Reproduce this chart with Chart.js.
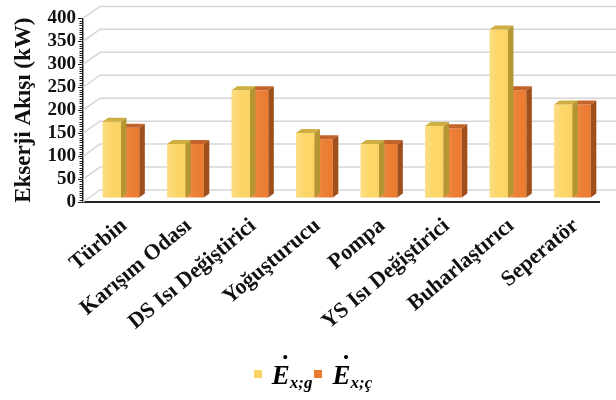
<!DOCTYPE html>
<html>
<head>
<meta charset="utf-8">
<script src="https://cdn.jsdelivr.net/npm/chart.js@4.4.1/dist/chart.umd.min.js"></script>
<style>
  html, body { margin: 0; padding: 0; background: #fff; }
  #wrap { position: relative; width: 616px; height: 400px; }
  #legend {
    position: absolute; left: 0; right: 0; top: 360px;
    text-align: center; padding-left: 8px; line-height: 30px; white-space: nowrap;
    font-family: 'Liberation Serif', 'Times New Roman', serif;
    font-weight: bold; font-style: italic; font-size: 27px; color: #000;
  }
  #legend .item { display: inline-block; }
  #legend .sw { display: inline-block; width: 8px; height: 8px; margin: 0 10px 0 2px; vertical-align: 6px; }
  #legend .e { position: relative; }
  #legend .dot { position: absolute; left: 9px; top: -10px; font-style: normal; }
  #legend sub { font-size: 17px; vertical-align: -4px; line-height: 0; }
</style>
</head>
<body>
<div id="wrap">
  <canvas id="chart" width="616" height="400"></canvas>
  <div id="legend"></div>
</div>
<script>
// ====================== Data ======================
const categories = ['Türbin', 'Karışım Odası', 'DS Isı Değiştirici', 'Yoğuşturucu',
  'Pompa', 'YS Isı Değiştirici', 'Buharlaştırıcı', 'Seperatör'];
const exGiris = [165, 117, 234, 141, 117, 156, 366, 203];
const exCikis = [152, 117, 234, 127, 117, 151, 234, 203];
const seriesSymbol = ['E', 'E'];
const seriesSub = ['x;g', 'x;ç'];
const yTicks = [0, 50, 100, 150, 200, 250, 300, 350, 400];

// ====================== 3D look ======================
const WALL = { x: 17, y: -12 };    // back wall offset
const SHIFT = { x: 5.7, y: -4.4 }; // bars sit a bit into the depth
const DEPTH = { x: 5.5, y: -4 };   // bar thickness

const colors = [
  { front: '#FCD462', top: '#CFAE42', side: '#B59633' },
  { front: '#EB7A2E', top: '#C4642A', side: '#9F4F1C' }
];

// gridlines on left and back walls + minor ticks
const walls = {
  id: 'walls',
  beforeDatasetsDraw(chart) {
    const ctx = chart.ctx, y = chart.scales.y, area = chart.chartArea;
    ctx.save();
    ctx.strokeStyle = '#d6d6d6';
    ctx.lineWidth = 1.5;
    yTicks.forEach(v => {
      const py = y.getPixelForValue(v);
      ctx.beginPath();
      ctx.moveTo(area.left, py);
      ctx.lineTo(area.left + WALL.x, py + WALL.y);
      ctx.lineTo(chart.width, py + WALL.y);
      ctx.stroke();
    });
    ctx.restore();
  },
  afterDraw(chart) {
    const ctx = chart.ctx, y = chart.scales.y, area = chart.chartArea;
    ctx.save();
    ctx.strokeStyle = '#222';
    ctx.lineWidth = 1;
    for (let v = 0; v <= 400; v += 5) {
      const py = Math.round(y.getPixelForValue(v)) + 0.5;
      const len = v % 50 === 0 ? 5 : 3.5;
      ctx.beginPath();
      ctx.moveTo(area.left - len, py);
      ctx.lineTo(area.left, py);
      ctx.stroke();
    }
    ctx.restore();
  }
};

// top and side faces of the bars, light sheen on the front
const bars3d = {
  id: 'bars3d',
  beforeDatasetDraw(chart) {
    chart.ctx.save();
    chart.ctx.translate(SHIFT.x, SHIFT.y);
  },
  afterDatasetDraw(chart, args) {
    const ctx = chart.ctx;
    const c = colors[args.index];
    args.meta.data.forEach(bar => {
      const { x, y, base, width } = bar.getProps(['x', 'y', 'base', 'width'], true);
      const l = x - width / 2, r = x + width / 2;

      const sheen = ctx.createLinearGradient(l, 0, r, 0);
      sheen.addColorStop(0, 'rgba(255,255,255,0.22)');
      sheen.addColorStop(0.45, 'rgba(255,255,255,0.05)');
      sheen.addColorStop(1, 'rgba(255,255,255,0)');
      ctx.fillStyle = sheen;
      ctx.fillRect(l, y, width, base - y);

      ctx.fillStyle = c.top;
      ctx.beginPath();
      ctx.moveTo(l, y);
      ctx.lineTo(l + DEPTH.x, y + DEPTH.y);
      ctx.lineTo(r + DEPTH.x, y + DEPTH.y);
      ctx.lineTo(r, y);
      ctx.closePath();
      ctx.fill();

      ctx.fillStyle = c.side;
      ctx.beginPath();
      ctx.moveTo(r, y);
      ctx.lineTo(r + DEPTH.x, y + DEPTH.y);
      ctx.lineTo(r + DEPTH.x, base + DEPTH.y);
      ctx.lineTo(r, base);
      ctx.closePath();
      ctx.fill();
    });
    ctx.restore();
  }
};

const serif = "'Liberation Serif', 'Times New Roman', serif";

new Chart(document.getElementById('chart'), {
  type: 'bar',
  data: {
    labels: categories,
    datasets: [
      { label: 'Ėx;g', data: exGiris, backgroundColor: colors[0].front, clip: false },
      { label: 'Ėx;ç', data: exCikis, backgroundColor: colors[1].front, clip: false }
    ]
  },
  options: {
    responsive: false,
    animation: false,
    layout: { padding: { top: 16, right: 17, left: 0, bottom: 0 } },
    datasets: { bar: { barPercentage: 1, categoryPercentage: 0.57 } },
    plugins: { legend: { display: false }, tooltip: { enabled: false } },
    scales: {
      x: {
        grid: { display: false },
        border: { display: true, color: '#222', width: 2 },
        ticks: {
          color: '#111', maxRotation: 40, minRotation: 40, padding: 3, labelOffset: 9,
          autoSkip: false,
          font: { family: serif, weight: 'bold', size: 22 }
        },
        afterFit(scale) { scale.height = 198; }
      },
      y: {
        min: 0, max: 400,
        grid: { display: false, drawTicks: false },
        border: { display: true, color: '#222', width: 1.5 },
        ticks: {
          stepSize: 50, padding: 7, color: '#111', autoSkip: false,
          font: { family: serif, weight: 'bold', size: 19 }
        },
        title: {
          display: true, text: 'Ekserji Akışı (kW)', color: '#111',
          padding: { top: 10, bottom: 0 },
          font: { family: serif, weight: 'bold', size: 23 }
        },
        afterFit(scale) { scale.width = 83; }
      }
    }
  },
  plugins: [walls, bars3d]
});

// ====================== Legend ======================
const legend = document.getElementById('legend');
seriesSymbol.forEach((sym, i) => {
  legend.innerHTML += `<span class="item"><span class="sw" style="background:${colors[i].front}"></span>` +
    `<span class="e">${sym}<span class="dot">˙</span></span><sub>${seriesSub[i]}</sub></span>`;
});
</script>
</body>
</html>
